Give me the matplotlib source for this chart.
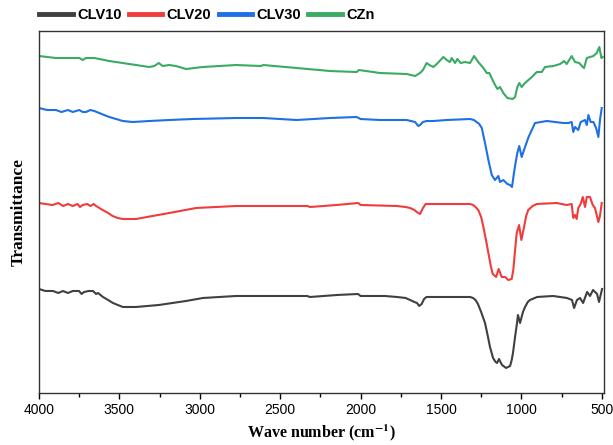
import matplotlib.pyplot as plt

plt.rcParams['mathtext.fontset'] = 'stix'

# spectra (wavenumber in cm-1, transmittance in arbitrary units, already stacked)
clv10_wn = [4000, 3960, 3913, 3880, 3851, 3820, 3790, 3751, 3735, 3720, 3690, 3664, 3645, 3633, 3602,
            3570, 3540, 3510, 3478, 3440, 3397, 3254, 3086, 2980, 2775, 2500, 2333, 2314, 2146, 2016,
            2000, 1850, 1773, 1720, 1692, 1665, 1649, 1635, 1620, 1605, 1590, 1500, 1400, 1319, 1300,
            1285, 1270, 1250, 1226, 1210, 1195, 1176, 1160, 1151, 1139, 1130, 1120, 1095, 1070, 1060,
            1052, 1040, 1027, 1021, 1008, 990, 977, 960, 946, 902, 803, 716, 685, 672, 654,
            635, 616, 591, 573, 554, 529, 517, 498]
clv10_t = [111, 109, 109, 107, 109, 107, 109, 109, 106, 108, 109, 109, 106, 107, 103,
           100, 97, 95, 93, 93, 93, 95, 99, 102, 104, 104, 104, 103, 105, 106,
           104, 104, 103, 102, 100, 98, 97, 94, 96, 101, 103, 103, 103, 103, 102,
           100, 96, 88, 77, 65, 53, 42, 38, 37, 41, 38, 35, 32, 34, 40,
           47, 62, 77, 85, 77, 88, 93, 98, 100, 103, 104, 102, 100, 92, 100,
           102, 97, 108, 104, 110, 106, 98, 111]

clv20_wn = [4000, 3960, 3915, 3880, 3850, 3820, 3790, 3760, 3745, 3728, 3700, 3680, 3660, 3645, 3604,
            3570, 3542, 3510, 3479, 3440, 3397, 3190, 3023, 2775, 2500, 2330, 2314, 2150, 2014, 2000,
            1775, 1720, 1692, 1665, 1651, 1630, 1612, 1595, 1500, 1319, 1300, 1285, 1268, 1250, 1236,
            1220, 1205, 1190, 1178, 1157, 1141, 1122, 1101, 1081, 1060, 1050, 1040, 1029, 1014, 1000,
            983, 970, 957, 930, 904, 780, 718, 687, 677, 666, 656, 646, 631, 618, 604,
            593, 573, 556, 542, 521, 511, 500]
clv20_t = [197, 196, 195, 197, 194, 196, 194, 196, 193, 195, 196, 194, 196, 194, 190,
           187, 184, 182, 181, 181, 181, 187, 192, 194, 194, 194, 193, 195, 197, 195,
           194, 193, 192, 190, 188, 186, 192, 196, 196, 196, 195, 193, 190, 183, 173,
           160, 147, 134, 126, 123, 131, 123, 123, 120, 121, 130, 148, 167, 175, 160,
           173, 184, 190, 194, 196, 197, 195, 196, 182, 185, 181, 192, 196, 203, 193,
           203, 203, 195, 192, 178, 184, 197]

clv30_wn = [4000, 3950, 3894, 3860, 3820, 3790, 3749, 3728, 3708, 3680, 3656, 3625, 3595, 3563, 3520,
            3479, 3417, 3314, 3190, 3044, 2775, 2605, 2397, 2190, 2024, 2000, 1879, 1713, 1661, 1641,
            1630, 1612, 1589, 1547, 1464, 1319, 1295, 1278, 1262, 1246, 1226, 1205, 1184, 1164, 1143,
            1133, 1112, 1087, 1070, 1058, 1046, 1035, 1025, 1013, 998, 977, 955, 935, 915, 842,
            738, 708, 687, 677, 666, 646, 631, 604, 593, 583, 569, 552, 535, 521, 511, 500]
clv30_t = [292, 290, 290, 288, 290, 288, 290, 288, 288, 290, 289, 287, 285, 283, 281,
           279, 278, 279, 280, 281, 282, 282, 280, 282, 283, 281, 280, 280, 278, 274,
           275, 278, 279, 279, 280, 281, 280, 278, 276, 272, 257, 240, 225, 220, 224,
           218, 220, 216, 215, 213, 227, 238, 247, 254, 243, 253, 263, 270, 277, 279,
           277, 277, 278, 268, 273, 270, 278, 280, 275, 285, 278, 278, 272, 263, 280, 292]

czn_wn = [4000, 3894, 3749, 3728, 3708, 3656, 3563, 3438, 3314, 3283, 3255, 3231, 3190, 3148, 3086,
          2982, 2775, 2620, 2605, 2397, 2190, 2024, 2010, 1879, 1713, 1661, 1630, 1612, 1589, 1572,
          1547, 1526, 1485, 1464, 1444, 1433, 1412, 1398, 1377, 1350, 1319, 1294, 1268, 1236, 1215,
          1199, 1170, 1149, 1133, 1112, 1087, 1054, 1039, 1025, 1013, 998, 977, 935, 904, 873,
          853, 801, 759, 734, 718, 687, 666, 640, 618, 610, 593, 573, 552, 531, 515, 502, 494]
czn_t = [344, 342, 342, 340, 342, 342, 339, 336, 333, 334, 337, 334, 335, 334, 331,
         333, 335, 334, 335, 332, 329, 328, 330, 327, 326, 324, 327, 330, 337, 335,
         333, 336, 343, 340, 338, 342, 337, 341, 337, 338, 337, 344, 338, 332, 327,
         327, 317, 311, 313, 307, 302, 301, 303, 313, 317, 313, 317, 323, 328, 328,
         333, 334, 336, 339, 336, 344, 338, 337, 333, 332, 342, 343, 344, 347, 353, 342, 343]

series = [('CLV10', clv10_wn, clv10_t, '#404040'),
          ('CLV20', clv20_wn, clv20_t, '#f03c3c'),
          ('CLV30', clv30_wn, clv30_t, '#1f6fe5'),
          ('CZn', czn_wn, czn_t, '#3aaa64')]

fig = plt.figure(figsize=(6.13, 4.45), dpi=100)
ax = fig.add_axes([0.0636, 0.1169, 0.9217, 0.8134])

for name, wn, t, col in series:
    ax.plot(wn, t, color=col, lw=1.5, label=name, solid_joinstyle='round')

ax.set_xlim(4000, 486)
ax.set_ylim(7, 369)
ax.set_xticks([4000, 3500, 3000, 2500, 2000, 1500, 1000, 500])
ax.set_xticks([3750, 3250, 2750, 2250, 1750, 1250, 750], minor=True)
ax.set_yticks([])
ax.tick_params(axis='x', which='major', direction='out', length=4, width=1, labelsize=10)
ax.tick_params(axis='x', which='minor', direction='out', length=3, width=1)
for lab in ax.get_xticklabels():
    lab.set_fontfamily('Liberation Sans')
for s in ax.spines.values():
    s.set_color('#333333')
    s.set_linewidth(1)

ax.set_xlabel(r'Wave number (cm$^{\mathbf{-1}}$)', fontfamily='Liberation Serif',
              fontweight='bold', fontsize=11.5, labelpad=4)
ax.set_ylabel('Transmittance', fontfamily='Liberation Serif', fontweight='bold',
              fontsize=12.5, labelpad=9)

leg = ax.legend(loc='center left', bbox_to_anchor=(0, 1.044), ncol=4, frameon=False,
                borderpad=0, borderaxespad=0, handlelength=2.3, handletextpad=0.3,
                columnspacing=0.5, prop={'family': 'Liberation Sans', 'weight': 'bold', 'size': 10.5})
for h in leg.get_lines():
    h.set_linewidth(3.5)

fig.savefig('out.png', dpi=100)
